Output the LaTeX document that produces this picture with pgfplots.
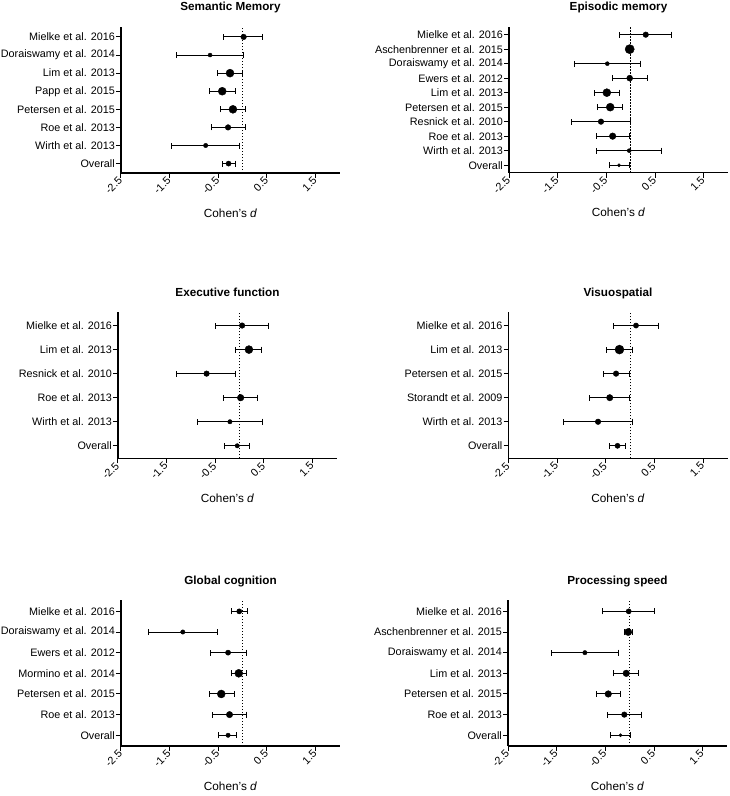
\documentclass[border=0pt]{standalone}
\usepackage{pgfplots}
\usepackage{pgfplotstable}
\pgfplotsset{compat=1.18}
\usepackage{fontspec}
\setmainfont{Liberation Sans}

% columns: y = row from bottom, d = effect, lo/hi = CI, r = marker radius (pt)
\pgfplotstableread{
y d lo hi r
8 0.02 -0.39 0.41 2.8
7 -0.67 -1.35 0.02 2.0
6 -0.26 -0.51 0.00 4.0
5 -0.42 -0.69 -0.15 4.0
4 -0.20 -0.45 0.06 4.0
3 -0.30 -0.64 0.06 2.8
2 -0.76 -1.47 -0.06 2.2
1 -0.29 -0.42 -0.15 2.6
}\tabA
\pgfplotstableread{
y d lo hi r
10 0.31 -0.23 0.84 2.8
9 -0.02 -0.06 0.02 4.6
8 -0.48 -1.15 0.20 2.0
7 -0.02 -0.38 0.34 3.0
6 -0.49 -0.75 -0.23 4.0
5 -0.42 -0.68 -0.17 4.0
4 -0.61 -1.21 -0.01 2.8
3 -0.37 -0.71 -0.02 3.3
2 -0.03 -0.70 0.64 2.0
1 -0.24 -0.44 -0.03 1.6
}\tabB
\pgfplotstableread{
y d lo hi r
6 0.05 -0.50 0.60 2.8
5 0.19 -0.08 0.44 4.0
4 -0.68 -1.29 -0.08 2.8
3 0.02 -0.33 0.36 3.3
2 -0.20 -0.86 0.47 2.2
1 -0.05 -0.31 0.21 2.2
}\tabC
\pgfplotstableread{
y d lo hi r
6 0.12 -0.35 0.58 2.6
5 -0.22 -0.48 0.04 4.5
4 -0.29 -0.54 -0.02 2.8
3 -0.42 -0.83 -0.01 3.2
2 -0.66 -1.36 0.04 2.8
1 -0.26 -0.42 -0.09 2.6
}\tabD
\pgfplotstableread{
y d lo hi r
7 -0.07 -0.22 0.10 2.6
6 -1.23 -1.93 -0.51 2.2
5 -0.30 -0.66 0.07 2.6
4 -0.08 -0.23 0.07 4.0
3 -0.44 -0.68 -0.17 4.0
2 -0.27 -0.61 0.08 3.2
1 -0.30 -0.49 -0.12 2.2
}\tabE
\pgfplotstableread{
y d lo hi r
7 -0.02 -0.55 0.52 2.6
6 -0.03 -0.11 0.05 3.6
5 -0.92 -1.61 -0.22 2.2
4 -0.07 -0.33 0.19 3.3
3 -0.44 -0.69 -0.18 3.3
2 -0.11 -0.45 0.25 2.8
1 -0.19 -0.39 0.01 1.6
}\tabF

\newcommand{\tlfont}{\fontsize{10.8}{13}\selectfont}
\pgfplotsset{
  forest/.style={
    scale only axis, width=219pt, height=146pt,
    xmin=-2.5, xmax=2.0, ymin=0.48, ymax=#1+0.55,
    axis x line*=bottom, axis y line*=left,
    x axis line style={-}, y axis line style={-},
    axis line style={line width=1.2pt},
    tick align=outside, major tick length=5pt,
    every tick/.style={line width=1pt, black},
    xtick={-2.5,-1.5,-0.5,0.5,1.5},
    xticklabels={-2.5,-1.5,-0.5,0.5,1.5},
    ytick={1,...,#1},
    every tick label/.append style={font=\tlfont},
    xticklabel style={font=\tlfont, rotate=45, anchor=east, inner sep=1pt},
    yticklabel style={font=\tlfont, inner sep=1pt},
    title style={anchor=base, yshift=10pt, font=\fontsize{11.7}{14}\selectfont\bfseries},
    xlabel={Cohen's \textit{d}},
    xlabel style={at={(0.5,0)}, anchor=base, yshift=-44pt, font=\fontsize{11.8}{14}\selectfont},
    clip=false,
  },
  fplot/.style={
    scatter, only marks, mark=*,
    scatter/use mapped color={draw=black, fill=black},
    visualization depends on={\thisrow{r}\as\rad},
    scatter/@pre marker code/.append style={/tikz/mark size=\rad pt},
    error bars/.cd, x dir=both, x explicit,
    error bar style={line width=1pt, black},
    error mark options={line width=1pt, black, mark size=3pt, rotate=90},
  },
  zline/.style={line width=1.3pt, dash pattern=on 1.3pt off 1.7pt, black},
}
\newcommand{\fp}[1]{\addplot[fplot] table[x=d, y=y,
    x error plus expr=\thisrow{hi}-\thisrow{d},
    x error minus expr=\thisrow{d}-\thisrow{lo}] {#1};}

\begin{document}
\begin{tikzpicture}
\useasboundingbox (0,0) rectangle (729pt,-796pt);

\begin{axis}[forest=8, at={(121pt,-173pt)}, anchor=south west,
  title={Semantic Memory},
  yticklabels={Overall, Wirth et al. 2013, Roe et al. 2013, Petersen et al. 2015, Papp et al. 2015, Lim et al. 2013, Doraiswamy et al. 2014, Mielke et al. 2016}]
\addplot[zline] coordinates {(0,0.48) (0,8.55)};
\fp{\tabA}
\end{axis}

\begin{axis}[forest=10, at={(509pt,-172.7pt)}, anchor=south west,
  title={Episodic memory},
  yticklabels={Overall, Wirth et al. 2013, Roe et al. 2013, Resnick et al. 2010, Petersen et al. 2015, Lim et al. 2013, Ewers et al. 2012, Doraiswamy et al. 2014, Aschenbrenner et al. 2015, Mielke et al. 2016}]
\addplot[zline] coordinates {(0,0.48) (0,10.55)};
\fp{\tabB}
\end{axis}

\begin{axis}[forest=6, at={(118pt,-458.3pt)}, anchor=south west,
  title={Executive function},
  yticklabels={Overall, Wirth et al. 2013, Roe et al. 2013, Resnick et al. 2010, Lim et al. 2013, Mielke et al. 2016}]
\addplot[zline] coordinates {(0,0.48) (0,6.55)};
\fp{\tabC}
\end{axis}

\begin{axis}[forest=6, at={(508.5pt,-458.3pt)}, anchor=south west,
  title={Visuospatial},
  yticklabels={Overall, Wirth et al. 2013, Storandt et al. 2009, Petersen et al. 2015, Lim et al. 2013, Mielke et al. 2016}]
\addplot[zline] coordinates {(0,0.48) (0,6.55)};
\fp{\tabD}
\end{axis}

\begin{axis}[forest=7, at={(121pt,-746pt)}, anchor=south west,
  title={Global cognition},
  yticklabels={Overall, Roe et al. 2013, Petersen et al. 2015, Mormino et al. 2014, Ewers et al. 2012, Doraiswamy et al. 2014, Mielke et al. 2016}]
\addplot[zline] coordinates {(0,0.48) (0,7.55)};
\fp{\tabE}
\end{axis}

\begin{axis}[forest=7, at={(508pt,-746pt)}, anchor=south west,
  title={Processing speed},
  yticklabels={Overall, Roe et al. 2013, Petersen et al. 2015, Lim et al. 2013, Doraiswamy et al. 2014, Aschenbrenner et al. 2015, Mielke et al. 2016}]
\addplot[zline] coordinates {(0,0.48) (0,7.55)};
\fp{\tabF}
\end{axis}
\end{tikzpicture}
\end{document}
